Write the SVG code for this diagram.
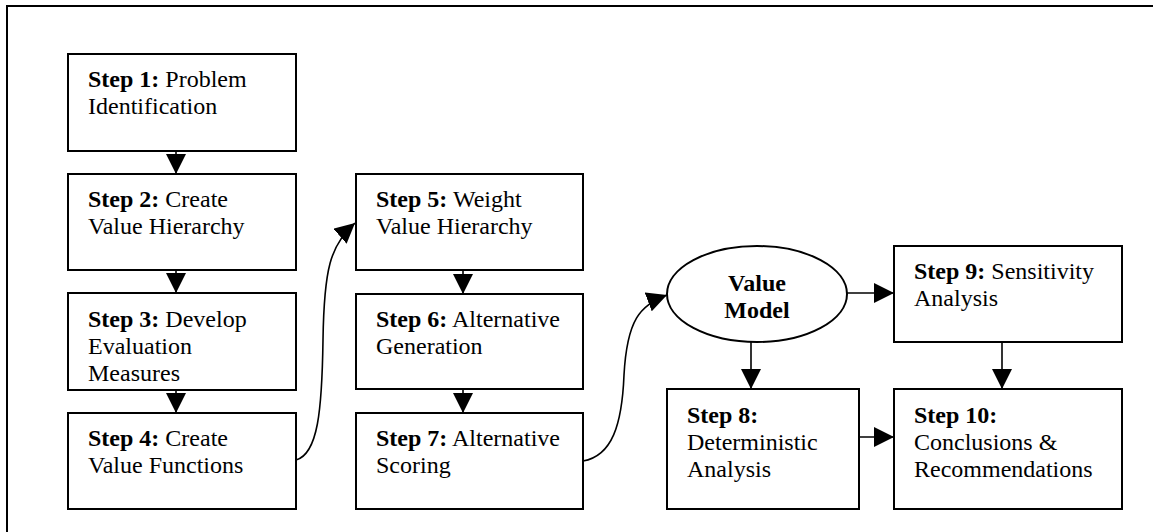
<svg xmlns="http://www.w3.org/2000/svg" width="1153" height="532" viewBox="0 0 1153 532">
  <style>
    .box { fill: #fff; stroke: #000; stroke-width: 2; }
    .conn { fill: none; stroke: #000; stroke-width: 1.6; }
    text { font-family: "Liberation Serif", "Times New Roman", serif; font-size: 24px; fill: #000; }
    .b { font-weight: bold; }
  </style>
  <defs>
    <marker id="arrow" markerUnits="userSpaceOnUse" markerWidth="20" markerHeight="20" refX="20" refY="10" orient="auto">
      <path d="M0,0 L20,10 L0,20 Z" fill="#000"/>
    </marker>
  </defs>
  <rect width="1153" height="532" fill="#fff"/>
  <!-- outer frame (open to the right and bottom) -->
  <path d="M7,532 V6 H1153" fill="none" stroke="#000" stroke-width="2"/>

  <g id="connectors">
    <line class="conn" x1="176" y1="151" x2="176" y2="174" marker-end="url(#arrow)"/>
    <line class="conn" x1="176" y1="270" x2="176" y2="293" marker-end="url(#arrow)"/>
    <line class="conn" x1="176" y1="390" x2="176" y2="413" marker-end="url(#arrow)"/>
    <path class="conn" d="M296,460 C318,454 322,410 323,340 C324,270 330,245 355,223" marker-end="url(#arrow)"/>
    <line class="conn" x1="463" y1="270" x2="463" y2="294" marker-end="url(#arrow)"/>
    <line class="conn" x1="463" y1="389" x2="463" y2="413" marker-end="url(#arrow)"/>
    <path class="conn" d="M583,461 C612,456 622,425 624,375 C627,320 640,305 667,295" marker-end="url(#arrow)"/>
    <line class="conn" x1="751" y1="342" x2="751" y2="389" marker-end="url(#arrow)"/>
    <line class="conn" x1="847" y1="293" x2="894" y2="293" marker-end="url(#arrow)"/>
    <line class="conn" x1="1002" y1="342" x2="1002" y2="389" marker-end="url(#arrow)"/>
    <line class="conn" x1="859" y1="437" x2="894" y2="437" marker-end="url(#arrow)"/>
  </g>

  <g id="step1">
    <rect class="box" x="68" y="54" width="228" height="97"/>
    <text x="88" y="87"><tspan class="b">Step 1:</tspan> Problem</text>
    <text x="88" y="114">Identification</text>
  </g>
  <g id="step2">
    <rect class="box" x="68" y="174" width="228" height="96"/>
    <text x="88" y="207"><tspan class="b">Step 2:</tspan> Create</text>
    <text x="88" y="234">Value Hierarchy</text>
  </g>
  <g id="step3">
    <rect class="box" x="68" y="293" width="228" height="97"/>
    <text x="88" y="327"><tspan class="b">Step 3:</tspan> Develop</text>
    <text x="88" y="354">Evaluation</text>
    <text x="88" y="381">Measures</text>
  </g>
  <g id="step4">
    <rect class="box" x="68" y="413" width="228" height="96"/>
    <text x="88" y="446"><tspan class="b">Step 4:</tspan> Create</text>
    <text x="88" y="473">Value Functions</text>
  </g>
  <g id="step5">
    <rect class="box" x="356" y="174" width="227" height="96"/>
    <text x="376" y="207"><tspan class="b">Step 5:</tspan> Weight</text>
    <text x="376" y="234">Value Hierarchy</text>
  </g>
  <g id="step6">
    <rect class="box" x="356" y="294" width="227" height="95"/>
    <text x="376" y="327"><tspan class="b">Step 6:</tspan> Alternative</text>
    <text x="376" y="354">Generation</text>
  </g>
  <g id="step7">
    <rect class="box" x="356" y="413" width="227" height="96"/>
    <text x="376" y="446"><tspan class="b">Step 7:</tspan> Alternative</text>
    <text x="376" y="473">Scoring</text>
  </g>
  <g id="value-model">
    <ellipse cx="757" cy="294" rx="90" ry="48" fill="#fff" stroke="#000" stroke-width="2"/>
    <text class="b" x="757" y="291" text-anchor="middle">Value</text>
    <text class="b" x="757" y="318" text-anchor="middle">Model</text>
  </g>
  <g id="step8">
    <rect class="box" x="667" y="389" width="192" height="120"/>
    <text x="687" y="423"><tspan class="b">Step 8:</tspan></text>
    <text x="687" y="450">Deterministic</text>
    <text x="687" y="477">Analysis</text>
  </g>
  <g id="step9">
    <rect class="box" x="894" y="246" width="228" height="96"/>
    <text x="914" y="279"><tspan class="b">Step 9:</tspan> Sensitivity</text>
    <text x="914" y="306">Analysis</text>
  </g>
  <g id="step10">
    <rect class="box" x="894" y="389" width="228" height="120"/>
    <text x="914" y="423"><tspan class="b">Step 10:</tspan></text>
    <text x="914" y="450">Conclusions &amp;</text>
    <text x="914" y="477">Recommendations</text>
  </g>
</svg>
